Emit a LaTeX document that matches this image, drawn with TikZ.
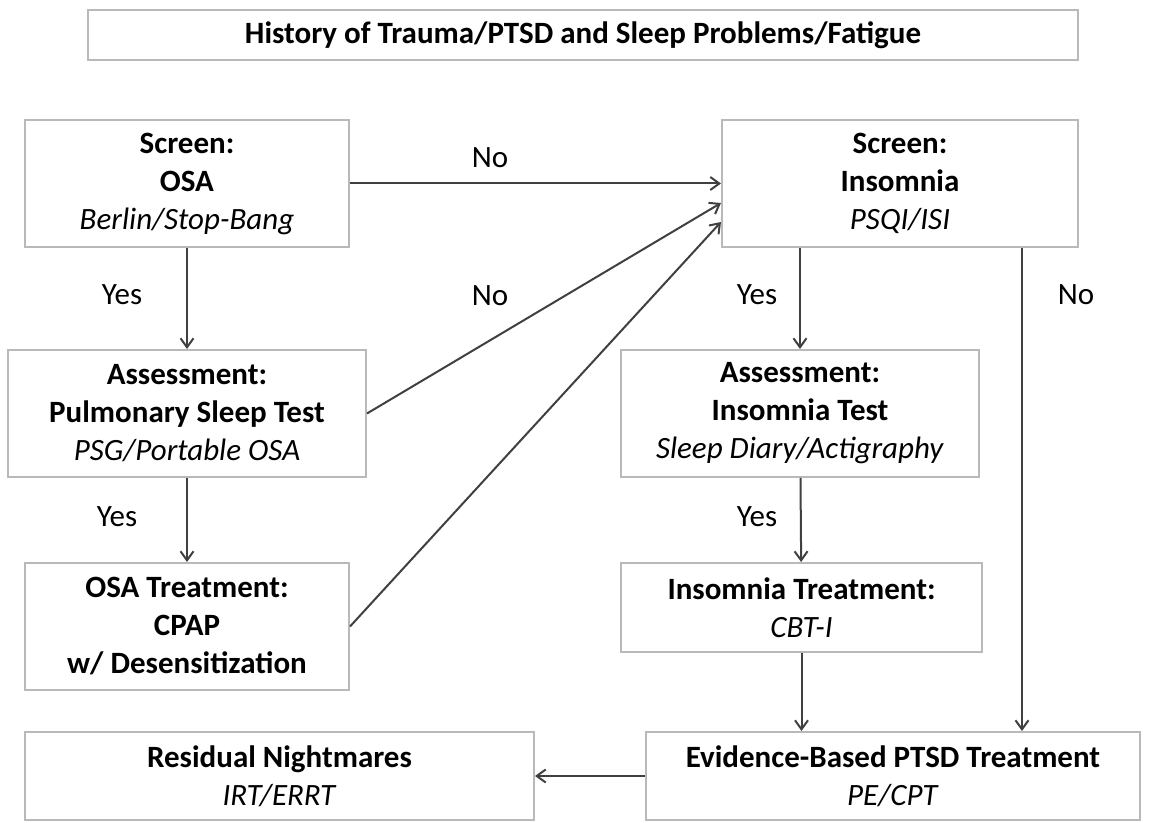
\documentclass[tikz,border=0pt]{standalone}
\usepackage{fontspec}
\setmainfont{Carlito}
\usetikzlibrary{positioning,calc,arrows.meta}

\begin{document}
\begin{tikzpicture}[x=0.5pt,y=-0.5pt,>={Straight Barb[length=4.5pt,width=6.5pt]},
  every node/.style={font=\fontsize{15.5}{19}\selectfont,align=center},
  stage/.style={draw=gray!55,line width=1pt,fill=white,inner sep=0pt},
  link/.style={draw=black!75,line width=1pt}]
\useasboundingbox (0,0) rectangle (1153,823);
\node[stage,minimum width=495pt,minimum height=25pt] (hist) at (583,35)
      {\textbf{History of Trauma/PTSD and Sleep Problems/Fatigue}};

\node[stage,minimum width=162pt,minimum height=63.5pt] (scr1) at (187,183.5)
      {\textbf{Screen:}\\\textbf{OSA}\\\textit{Berlin/Stop-Bang}};
\node[stage,minimum width=179pt,minimum height=63.5pt] (asm1) at (187,413.5)
      {\textbf{Assessment:}\\\textbf{Pulmonary Sleep Test}\\\textit{PSG/Portable OSA}};
\node[stage,minimum width=162pt,minimum height=63.5pt] (trt1) at (187,626.5)
      {\textbf{OSA Treatment:}\\\textbf{CPAP}\\\textbf{w/ Desensitization}};
\node[stage,minimum width=254.5pt,minimum height=44pt] (resid) at (279.5,776)
      {\textbf{Residual Nightmares}\\\textit{IRT/ERRT}};

\node[stage,minimum width=178pt,minimum height=63.5pt] (scr2) at (900,183.5)
      {\textbf{Screen:}\\\textbf{Insomnia}\\\textit{PSQI/ISI}};
\node[stage,minimum width=179pt,minimum height=63.5pt] (asm2) at (800,413.5)
      {\textbf{Assessment:}\\\textbf{Insomnia Test}\\\textit{Sleep Diary/Actigraphy}};
\node[stage,minimum width=180.5pt,minimum height=44.5pt] (trt2) at (801.5,607.5)
      {\textbf{Insomnia Treatment:}\\\textit{CBT-I}};
\node[stage,minimum width=247pt,minimum height=44pt] (evid) at (893,776)
      {\textbf{Evidence-Based PTSD Treatment}\\\textit{PE/CPT}};

\node (no1)  at (490,158)  {No};
\node (no2)  at (490,296)  {No};
\node (yes1) at (122,295)  {Yes};
\node (yes2) at (117,517)  {Yes};
\node (yes3) at (757,295)  {Yes};
\node (yes4) at (757,517)  {Yes};
\node (no3)  at (1076,295) {No};

\path (scr1) edge[->,link] (scr2);
\path (asm1.east) edge[->,link] ($(scr2.west)+(0,19.5)$);
\path (trt1.east) edge[->,link] ($(scr2.west)+(0,38.5)$);
\path (scr1) edge[->,link] (asm1);
\path (asm1) edge[->,link] (trt1);
\path (asm2.north |- scr2.south) edge[->,link] (asm2);
\path (asm2) edge[->,link] (trt2);
\path (trt2.south) edge[->,link] (trt2.south |- evid.north);
\coordinate (noTop) at ($(scr2.south east)+(-57,0)$);
\path (noTop) edge[->,link] (noTop |- evid.north);
\path (evid) edge[->,link] (resid);
\end{tikzpicture}
\end{document}
